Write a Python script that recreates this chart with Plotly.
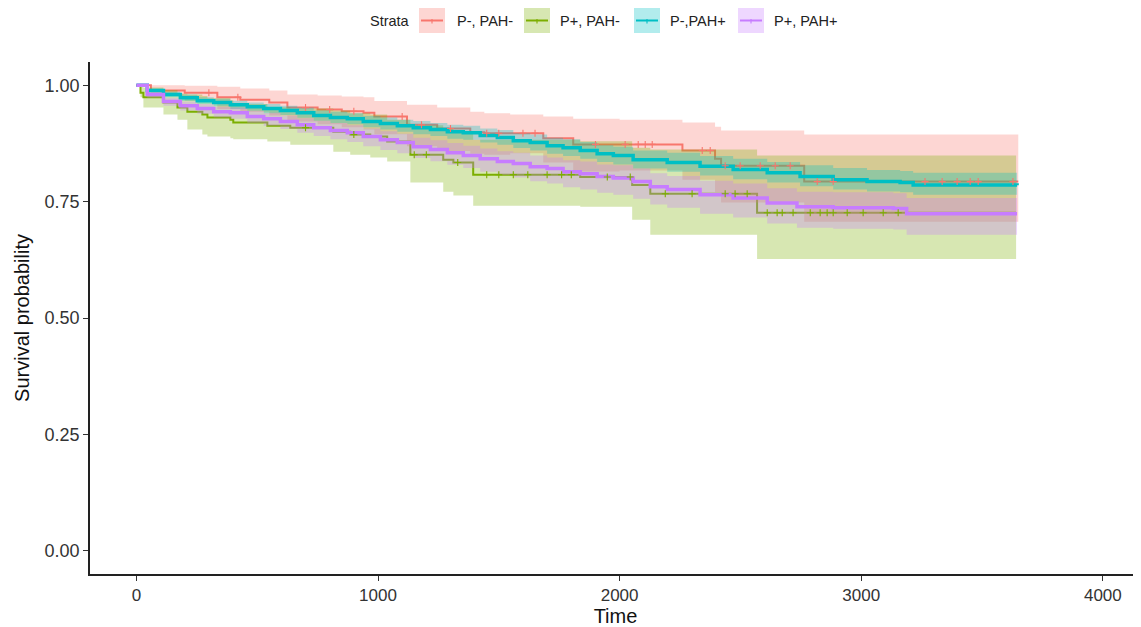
import numpy as np
import plotly.graph_objects as go

# ---------------- data ----------------
strata = ["P-, PAH-", "P+, PAH-", "P-,PAH+", "P+, PAH+"]
line_colors = ["#F8766D", "#7CAE00", "#00BFC4", "#C77CFF"]
fill_colors = ["rgba(248,118,109,0.3)", "rgba(124,174,0,0.3)",
               "rgba(0,191,196,0.3)", "rgba(199,124,255,0.3)"]

# P-, PAH-
red_time = [0, 60, 200, 335, 430, 550, 625, 750, 850, 940, 985, 1120, 1245, 1382,
            1440, 1547, 1684, 1808, 2000, 2260, 2395, 2420, 2764, 3650]
red_surv = [1.0, 0.989, 0.984, 0.974, 0.969, 0.963, 0.952, 0.948, 0.944, 0.941, 0.933,
            0.915, 0.907, 0.899, 0.897, 0.897, 0.886, 0.873, 0.873, 0.860, 0.842, 0.827,
            0.793, 0.793]
red_upper = [1.0, 1.0, 0.999, 0.997, 0.993, 0.989, 0.980, 0.978, 0.976, 0.974, 0.966,
             0.958, 0.952, 0.943, 0.940, 0.937, 0.933, 0.928, 0.926, 0.920, 0.911, 0.903,
             0.894, 0.894]
red_lower = [1.0, 0.977, 0.967, 0.949, 0.943, 0.935, 0.922, 0.916, 0.910, 0.905, 0.895,
             0.869, 0.859, 0.853, 0.851, 0.854, 0.834, 0.815, 0.817, 0.797, 0.770, 0.748,
             0.707, 0.707]
red_censor = [300, 420, 700, 800, 900, 1100, 1180, 1300, 1450, 1500, 1600, 1650, 1900,
              2023, 2077, 2106, 2135, 2342, 2375, 2437, 2499, 2582, 2644, 2706, 2818,
              2884, 3264, 3335, 3397, 3451, 3484, 3628]

# P+, PAH-
green_time = [0, 17, 29, 112, 170, 211, 273, 294, 389, 401, 542, 637, 815, 885, 968,
              1038, 1134, 1270, 1312, 1394, 1837, 2052, 2127, 2569, 3641]
green_surv = [1.0, 0.984, 0.974, 0.963, 0.952, 0.943, 0.937, 0.931, 0.926, 0.920, 0.913,
              0.909, 0.900, 0.894, 0.890, 0.879, 0.851, 0.840, 0.834, 0.808, 0.803, 0.786,
              0.767, 0.726, 0.726]
green_lower = [1.0, 0.974, 0.952, 0.937, 0.926, 0.905, 0.894, 0.890, 0.886, 0.884, 0.879,
               0.872, 0.857, 0.851, 0.845, 0.836, 0.791, 0.771, 0.763, 0.741, 0.739, 0.711,
               0.679, 0.627, 0.627]
green_upper = [1.0, 0.997, 0.995, 0.990, 0.982, 0.980, 0.977, 0.972, 0.968, 0.960, 0.953,
               0.950, 0.946, 0.940, 0.937, 0.926, 0.914, 0.907, 0.902, 0.883, 0.880, 0.866,
               0.862, 0.849, 0.849]
green_censor = [700, 900, 1150, 1200, 1330, 1450, 1500, 1560, 1620, 1700, 1760, 1800,
                1949, 2044, 2189, 2300, 2437, 2478, 2528, 2611, 2652, 2673, 2718, 2789,
                2830, 2859, 2884, 2942, 3008, 3091, 3153]

# P-,PAH+
cyan_time = [0, 45, 112, 182, 252, 320, 389, 459, 527, 596, 666, 734, 803, 873, 939,
             1010, 1080, 1146, 1217, 1287, 1353, 1423, 1494, 1560, 1630, 1700, 1766, 1837,
             1907, 1974, 2056, 2197, 2333, 2470, 2611, 2747, 2884, 3024, 3161, 3215, 3645]
cyan_surv = [1.0, 0.989, 0.980, 0.973, 0.967, 0.963, 0.958, 0.954, 0.950, 0.946, 0.941,
             0.935, 0.931, 0.928, 0.922, 0.918, 0.913, 0.909, 0.905, 0.900, 0.898, 0.892,
             0.888, 0.881, 0.877, 0.870, 0.866, 0.860, 0.853, 0.849, 0.840, 0.834, 0.826,
             0.819, 0.812, 0.804, 0.797, 0.793, 0.791, 0.786, 0.785]
cyan_upper = [1.0, 0.993, 0.986, 0.980, 0.974, 0.971, 0.967, 0.963, 0.960, 0.956, 0.952,
              0.946, 0.943, 0.940, 0.934, 0.931, 0.926, 0.923, 0.919, 0.915, 0.913, 0.907,
              0.904, 0.897, 0.894, 0.887, 0.884, 0.878, 0.871, 0.868, 0.860, 0.855, 0.848,
              0.842, 0.835, 0.828, 0.822, 0.818, 0.816, 0.812, 0.812]
cyan_lower = [1.0, 0.985, 0.974, 0.966, 0.960, 0.955, 0.949, 0.945, 0.940, 0.936, 0.930,
              0.924, 0.919, 0.916, 0.910, 0.905, 0.900, 0.895, 0.891, 0.885, 0.883, 0.877,
              0.872, 0.865, 0.860, 0.853, 0.848, 0.842, 0.835, 0.830, 0.821, 0.814, 0.806,
              0.798, 0.791, 0.783, 0.776, 0.772, 0.770, 0.765, 0.764]

# P+, PAH+
purple_time = [0, 45, 112, 182, 252, 320, 389, 459, 527, 596, 666, 734, 803, 873, 939,
               1010, 1080, 1146, 1217, 1287, 1353, 1423, 1494, 1560, 1630, 1700, 1766,
               1837, 1907, 1974, 2056, 2127, 2197, 2333, 2470, 2611, 2734, 2884, 3133,
               3188, 3645]
purple_surv = [1.0, 0.980, 0.965, 0.956, 0.950, 0.943, 0.941, 0.933, 0.928, 0.922, 0.915,
               0.909, 0.903, 0.898, 0.890, 0.883, 0.877, 0.868, 0.862, 0.855, 0.849, 0.842,
               0.836, 0.832, 0.825, 0.821, 0.814, 0.810, 0.804, 0.801, 0.793, 0.782, 0.776,
               0.765, 0.758, 0.747, 0.739, 0.737, 0.735, 0.724, 0.724]
purple_upper = [1.0, 0.986, 0.973, 0.965, 0.960, 0.954, 0.952, 0.945, 0.941, 0.935, 0.929,
                0.924, 0.919, 0.914, 0.907, 0.901, 0.896, 0.887, 0.882, 0.876, 0.870, 0.864,
                0.858, 0.855, 0.849, 0.845, 0.839, 0.836, 0.830, 0.828, 0.821, 0.811, 0.805,
                0.795, 0.789, 0.779, 0.771, 0.770, 0.768, 0.758, 0.758]
purple_lower = [1.0, 0.973, 0.956, 0.946, 0.939, 0.931, 0.928, 0.919, 0.913, 0.906, 0.898,
                0.891, 0.884, 0.878, 0.869, 0.861, 0.854, 0.844, 0.837, 0.829, 0.822, 0.814,
                0.807, 0.802, 0.794, 0.789, 0.781, 0.776, 0.769, 0.765, 0.756, 0.744, 0.737,
                0.724, 0.716, 0.703, 0.694, 0.692, 0.690, 0.679, 0.679]

x_ticks = [0, 1000, 2000, 3000, 4000]
y_ticks = [0.0, 0.25, 0.5, 0.75, 1.0]
y_tick_labels = ["0.00", "0.25", "0.50", "0.75", "1.00"]

series = [
    (red_time, red_surv, red_lower, red_upper, red_censor),
    (green_time, green_surv, green_lower, green_upper, green_censor),
    (cyan_time, cyan_surv, cyan_lower, cyan_upper, None),
    (purple_time, purple_surv, purple_lower, purple_upper, None),
]
line_widths = [2, 2, 3.5, 3.5]
lines_on_top = [False, False, True, True]

fig = go.Figure()

def add_line(i):
    t, s = series[i][0], series[i][1]
    fig.add_trace(go.Scatter(x=t, y=s, mode="lines",
                             line=dict(color=line_colors[i], width=line_widths[i], shape="hv"),
                             name=strata[i], showlegend=False, hoverinfo="skip"))

# step lines below ribbons
for i in range(4):
    if not lines_on_top[i]:
        add_line(i)

# confidence ribbons
for (t, s, lo, up, cen), fc in zip(series, fill_colors):
    fig.add_trace(go.Scatter(x=t, y=lo, mode="lines", line=dict(width=0, shape="hv"),
                             showlegend=False, hoverinfo="skip"))
    fig.add_trace(go.Scatter(x=t, y=up, mode="lines", line=dict(width=0, shape="hv"),
                             fill="tonexty", fillcolor=fc, showlegend=False, hoverinfo="skip"))

# densely censored strata: marks cover the line, so it shows on top
for i in range(4):
    if lines_on_top[i]:
        add_line(i)

# censor marks
for (t, s, lo, up, cen), c in zip(series, line_colors):
    if cen is None:
        continue
    ta = np.array(t)
    sa = np.array(s)
    idx = np.searchsorted(ta, np.array(cen), side="right") - 1
    fig.add_trace(go.Scatter(x=cen, y=sa[idx], mode="markers",
                             marker=dict(symbol="cross-thin", size=5,
                                         line=dict(width=1.1, color=c)),
                             showlegend=False, hoverinfo="skip"))

# ---------------- layout ----------------
# the page body has an 8px margin, so the figure is drawn 8px in from the window corner
OFF = 8
W, H = 1141 - OFF, 627 - OFF
# plot area in window pixels: x 90..1141, y 62..574
L, R, T, B = 90 - OFF, 0, 62 - OFF, 627 - 574
pw, ph = W - L - R, H - T - B

def px(x):
    return (x - OFF - L) / pw

def py(y):
    return (H - B - (y - OFF)) / ph

font = "Liberation Sans, Arial, sans-serif"

shapes = []
annotations = []
annotations.append(dict(x=px(390), y=py(20.5), xref="paper", yref="paper", text="Strata",
                        showarrow=False, xanchor="center", yanchor="middle",
                        font=dict(family=font, size=14.5, color="#222")))
box_left = [419, 524, 634, 738]
text_left = [455, 558, 668, 772]
for bl, tl, lc, fc, name in zip(box_left, text_left, line_colors, fill_colors, strata):
    shapes.append(dict(type="rect", xref="paper", yref="paper",
                       x0=px(bl), x1=px(bl + 26), y0=py(33), y1=py(8),
                       fillcolor=fc, line=dict(width=0)))
    shapes.append(dict(type="line", xref="paper", yref="paper",
                       x0=px(bl + 2), x1=px(bl + 24), y0=py(20.5), y1=py(20.5),
                       line=dict(color=lc, width=2)))
    shapes.append(dict(type="line", xref="paper", yref="paper",
                       x0=px(bl + 13), x1=px(bl + 13), y0=py(19), y1=py(23.5),
                       line=dict(color=lc, width=1.1)))
    annotations.append(dict(x=px(tl), y=py(20.5), xref="paper", yref="paper", text=name,
                            showarrow=False, xanchor="left", yanchor="middle",
                            font=dict(family=font, size=14.5, color="#222")))

fig.update_layout(
    width=W, height=H,
    margin=dict(l=L, r=R, t=T, b=B, autoexpand=False),
    plot_bgcolor="white", paper_bgcolor="white",
    showlegend=False,
    shapes=shapes, annotations=annotations,
    font=dict(family=font, color="#222"),
)
fig.update_xaxes(range=[-192, 4158], tickvals=x_ticks, ticks="outside", ticklen=5,
                 tickwidth=1.2, tickcolor="#333", showline=True, linecolor="#222",
                 linewidth=1.5, showgrid=False, zeroline=False, automargin=False,
                 tickfont=dict(family=font, size=17, color="#333"),
                 title=dict(text="Time", font=dict(family=font, size=20, color="#111"),
                            standoff=0))
fig.update_yaxes(range=[-0.05, 1.05], tickvals=y_ticks, ticktext=y_tick_labels,
                 ticks="outside", ticklen=5, tickwidth=1.2, tickcolor="#333",
                 showline=True, linecolor="#222", linewidth=1.5, showgrid=False,
                 zeroline=False, automargin=False,
                 tickfont=dict(family=font, size=18, color="#333"),
                 title=dict(text="Survival probability",
                            font=dict(family=font, size=20, color="#111"), standoff=10))

fig.write_html("out.html")
